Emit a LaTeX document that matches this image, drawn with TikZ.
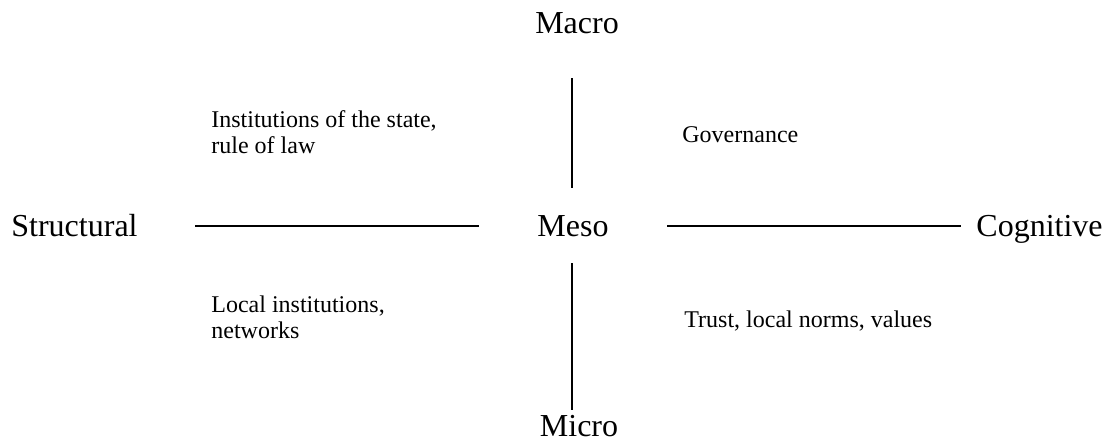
\documentclass[tikz,border=0pt]{standalone}
\usepackage{fontspec}
\setmainfont{Liberation Serif}
\begin{document}
\begin{tikzpicture}[x=0.5pt,y=-0.5pt,
  axis/.style={inner sep=0pt,font=\fontsize{16}{19}\selectfont},
  field/.style={inner sep=0pt,align=left,anchor=base west,font=\fontsize{12}{13}\selectfont},
  bar/.style={black,line width=1pt}]
\useasboundingbox (0,0) rectangle (1107,441);
% the two axes
\node[axis,anchor=base] (macro) at (577,33) {Macro};
\node[axis,anchor=base] (meso) at (573,236) {Meso};
\node[axis,anchor=base] (micro) at (579,436) {Micro};
\node[axis,anchor=base west] (structural) at (11,236) {Structural};
\node[axis,anchor=base west] (cognitive) at (976,236) {Cognitive};
% the four fields
\node[field] (state) at (211,153) {Institutions of the state,\\rule of law};
\node[field] (governance) at (682,142) {Governance};
\node[field] (local) at (211,338) {Local institutions,\\networks};
\node[field] (trust) at (684,327) {Trust, local norms, values};
% lines
\coordinate (top1) at (572,78);
\coordinate (top2) at (572,188);
\coordinate (bot1) at (572,263);
\coordinate (bot2) at (572,410);
\coordinate (left1) at (195,226);
\coordinate (left2) at (479,226);
\coordinate (right1) at (667,226);
\coordinate (right2) at (961,226);
\draw[bar] (top1) -- (top2);
\draw[bar] (bot1) -- (bot2);
\draw[bar] (left1) -- (left2);
\draw[bar] (right1) -- (right2);
\end{tikzpicture}
\end{document}
